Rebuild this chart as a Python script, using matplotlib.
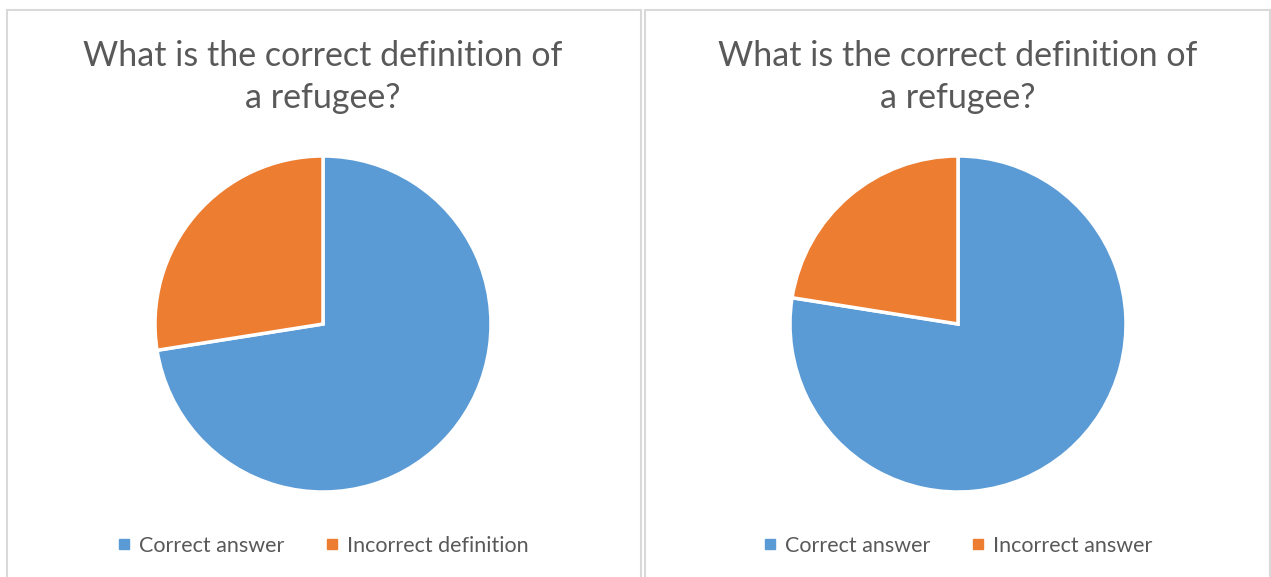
import matplotlib

matplotlib.use("Agg")
import matplotlib.pyplot as plt  # noqa: E402
from matplotlib.lines import Line2D  # noqa: E402
from matplotlib.patches import Rectangle  # noqa: E402

title = "What is the correct definition of\na refugee?"
left_labels = ["Correct answer", "Incorrect definition"]
left_values = [72.5, 27.5]
right_labels = ["Correct answer", "Incorrect answer"]
right_values = [77.5, 22.5]
colors = ["#5B9BD5", "#ED7D31"]

W, H = 1271, 577
plt.rcParams["font.family"] = ["Lato", "DejaVu Sans"]
fig = plt.figure(figsize=(W / 100, H / 100), dpi=100)
fig.patch.set_facecolor("white")

# panel frames (pixel boxes)
for x0, x1 in [(7, 641), (645, 1270)]:
    fig.patches.append(Rectangle((x0 / W, -0.05), (x1 - x0) / W, (H - 10) / H + 0.05,
                                 transform=fig.transFigure, fill=False,
                                 edgecolor="#D9D9D9", linewidth=1.5))


def draw_panel(cx, labels, values):
    r = 168
    ax = fig.add_axes([(cx - r) / W, (H - 324 - r) / H, 2 * r / W, 2 * r / H])
    ax.pie(values, colors=colors, startangle=90, counterclock=False,
           wedgeprops=dict(edgecolor="white", linewidth=2.5))
    ax.set_xlim(-1.0, 1.0)
    ax.set_ylim(-1.0, 1.0)
    ax.axis("off")
    fig.text(cx / W, 1 - 77 / H, title, ha="center", va="center",
             fontsize=24.5, color="#595959", linespacing=1.4)
    handles = [Line2D([], [], marker="s", linestyle="", color=c, markersize=7) for c in colors]
    fig.legend(handles, labels, loc="center", bbox_to_anchor=(cx / W, 1 - 546 / H),
               ncol=2, frameon=False, fontsize=15.5, labelcolor="#595959",
               handlelength=0.6, handletextpad=0.4, columnspacing=1.9)


draw_panel(323, left_labels, left_values)
draw_panel(958, right_labels, right_values)

fig.savefig("out.png", dpi=100)
plt.close(fig)
